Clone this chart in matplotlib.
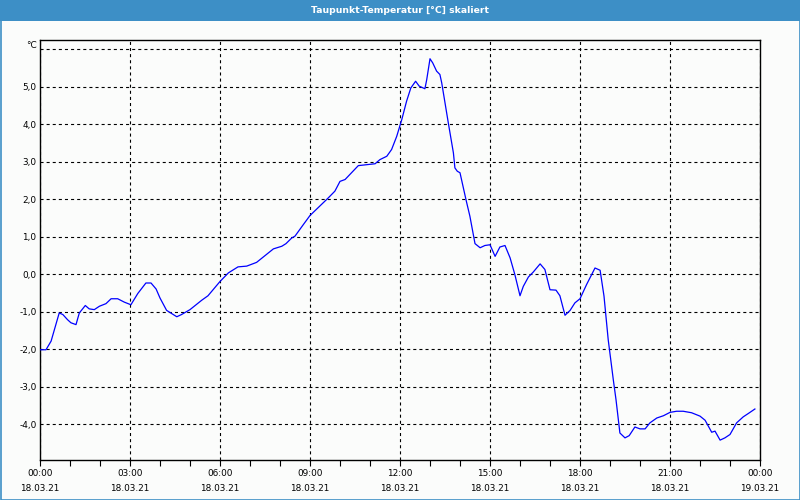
import matplotlib
matplotlib.use("Agg")
import matplotlib.pyplot as plt
from matplotlib.patches import Rectangle

# Data: time in hours since 18.03.21 00:00, dew point in °C
hours = [0.00, 0.20, 0.37, 0.64, 0.76, 0.92, 1.03, 1.20, 1.31, 1.51, 1.64, 1.81, 1.98,
         2.20, 2.37, 2.59, 2.81, 3.03, 3.26, 3.53, 3.70, 3.87, 4.00, 4.22, 4.56, 4.72,
         5.00, 5.39, 5.60, 6.00, 6.28, 6.60, 6.89, 7.22, 7.50, 7.78, 8.06, 8.20, 8.39,
         8.50, 8.78, 9.00, 9.61, 9.83, 10.00, 10.17, 10.61, 11.17, 11.33, 11.56, 11.72,
         11.89, 12.06, 12.22, 12.36, 12.52, 12.64, 12.83, 12.89, 13.00, 13.09, 13.22,
         13.33, 13.39, 13.61, 13.78, 13.83, 13.91, 14.00, 14.20, 14.33, 14.50, 14.67,
         14.83, 15.00, 15.17, 15.33, 15.50, 15.67, 15.83, 16.00, 16.11, 16.28, 16.44,
         16.67, 16.83, 17.00, 17.20, 17.33, 17.50, 17.67, 17.83, 18.00, 18.22, 18.50,
         18.67, 18.80, 18.94, 19.11, 19.20, 19.33, 19.50, 19.64, 19.83, 20.00, 20.17,
         20.33, 20.56, 20.78, 21.00, 21.22, 21.44, 21.72, 22.00, 22.17, 22.28, 22.39,
         22.50, 22.67, 22.83, 23.00, 23.22, 23.44, 23.61, 23.83]
dewpoint = [-2.01, -2.01, -1.78, -1.03, -1.07, -1.21, -1.29, -1.34, -1.03, -0.83, -0.92, -0.94, -0.85,
            -0.78, -0.65, -0.65, -0.74, -0.81, -0.51, -0.23, -0.23, -0.39, -0.63, -0.96, -1.13, -1.07,
            -0.94, -0.69, -0.57, -0.19, 0.04, 0.20, 0.22, 0.32, 0.50, 0.68, 0.75, 0.82, 0.97,
            1.02, 1.33, 1.57, 2.04, 2.22, 2.48, 2.53, 2.90, 2.95, 3.06, 3.15, 3.33,
            3.68, 4.13, 4.62, 4.97, 5.15, 5.02, 4.95, 5.19, 5.75, 5.64, 5.42,
            5.33, 5.11, 4.04, 3.24, 2.84, 2.75, 2.71, 1.99, 1.55, 0.82, 0.71,
            0.77, 0.79, 0.48, 0.73, 0.77, 0.44, -0.01, -0.57, -0.32, -0.07, 0.06,
            0.28, 0.13, -0.41, -0.42, -0.57, -1.09, -0.96, -0.76, -0.65, -0.27, 0.17,
            0.11, -0.58, -1.74, -2.81, -3.34, -4.23, -4.36, -4.30, -4.07, -4.12, -4.12,
            -3.96, -3.83, -3.77, -3.68, -3.65, -3.65, -3.69, -3.78, -3.89, -4.05, -4.21,
            -4.18, -4.42, -4.36, -4.27, -3.96, -3.80, -3.71, -3.59]

x_ticks = [0, 3, 6, 9, 12, 15, 18, 21, 24]
x_labels = ["00:00\n18.03.21", "03:00\n18.03.21", "06:00\n18.03.21", "09:00\n18.03.21",
            "12:00\n18.03.21", "15:00\n18.03.21", "18:00\n18.03.21", "21:00\n18.03.21",
            "00:00\n19.03.21"]
y_ticks = [-4, -3, -2, -1, 0, 1, 2, 3, 4, 5, 6]
y_labels = ["-4,0", "-3,0", "-2,0", "-1,0", "0,0", "1,0", "2,0", "3,0", "4,0", "5,0", ""]
title = "Taupunkt-Temperatur [°C] skaliert"
unit = "°C"

plt.rcParams['font.family'] = ['DejaVu Sans']
plt.rcParams['lines.scale_dashes'] = False

bg = '#fbfcfb'
bar = '#3d8fc6'

fig = plt.figure(figsize=(8, 5), dpi=100, facecolor=bg)

# title bar and outer border
fig.patches.append(Rectangle((0, 1 - 21/500), 1, 21/500, transform=fig.transFigure,
                             facecolor=bar, edgecolor='none', zorder=0))
fig.patches.append(Rectangle((0.5/800, 0.5/500), 799/800, 1 - 1/500, transform=fig.transFigure,
                             facecolor='none', edgecolor=bar, linewidth=1.2, zorder=0))
fig.text(0.5, 1 - 10.5/500, title, color='white', ha='center', va='center',
         fontsize=6.7, fontweight='bold')

ax = fig.add_axes([40/800, 40/500, 720/800, 420/500])
ax.set_facecolor(bg)
ax.plot(hours, dewpoint, color='#0000ff', linewidth=0.9, zorder=3)

ax.set_xlim(0, 24)
ax.set_ylim(-4.95, 6.25)
ax.set_xticks(x_ticks)
ax.set_xticklabels(x_labels, fontsize=6.4, linespacing=1.85)
ax.set_xticks(range(0, 25), minor=True)
ax.set_yticks(y_ticks)
ax.set_yticklabels(y_labels, fontsize=6.4)
ax.tick_params(axis='x', which='both', length=4, width=0.8, pad=2.5, colors='black')
ax.tick_params(axis='y', which='both', length=0, pad=2.5)
for sp in ax.spines.values():
    sp.set_linewidth(1.0)
    sp.set_color('black')

ax.grid(True, which='major', color='black', linewidth=0.8, linestyle=(0, (2.2, 2.2)), zorder=1)

fig.text(37/800, 1 - 45/500, unit, ha='right', va='center', fontsize=6.4)

fig.savefig('out.png', dpi=100, facecolor=bg)
